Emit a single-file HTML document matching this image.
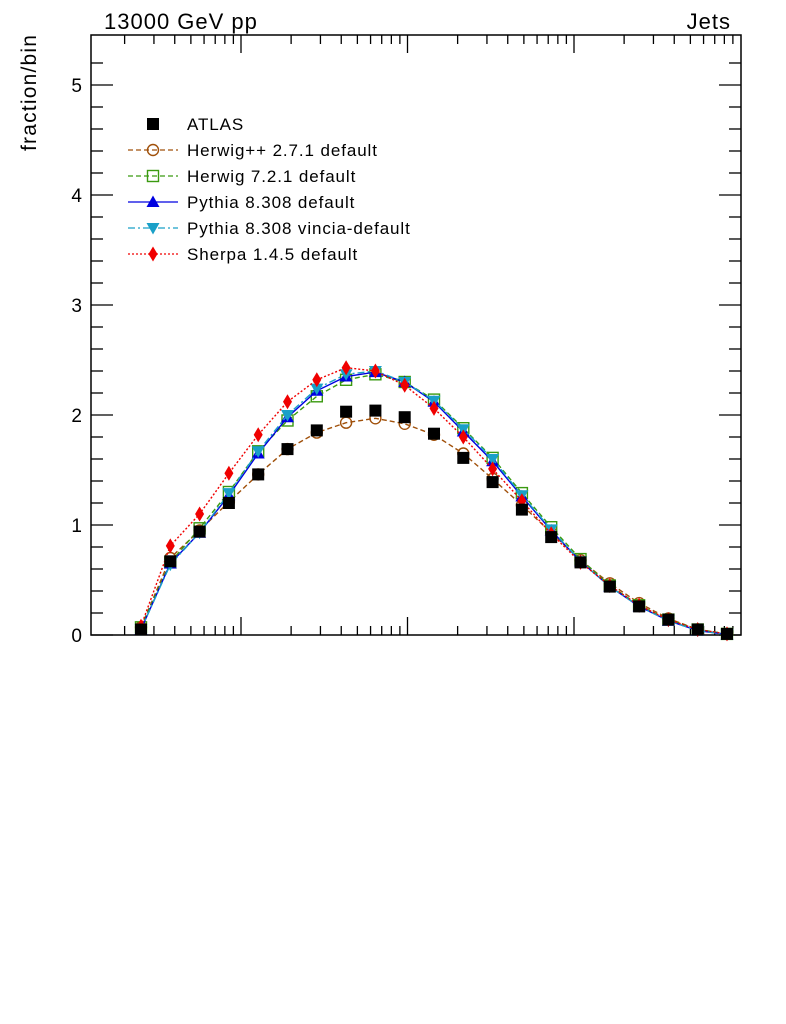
<!DOCTYPE html>
<html><head><meta charset="utf-8"><style>
html,body{margin:0;padding:0;background:#fff;width:786px;height:1024px;overflow:hidden}
svg{font-family:"Liberation Sans",Arial,sans-serif}
</style></head><body>
<svg id="chart" width="786" height="1024" xmlns="http://www.w3.org/2000/svg">
<text x="104" y="29" font-size="22" letter-spacing="1">13000 GeV pp</text>
<text x="731" y="29" font-size="22" letter-spacing="1" text-anchor="end">Jets</text>
<text transform="translate(36,151) rotate(-90)" font-size="21" letter-spacing="1.2">fraction/bin</text>
<rect x="91" y="35" width="650" height="600" fill="none" stroke="#000" stroke-width="1.5"/>
<g id="axes"></g>
<g id="series"></g>
<g id="legend"></g>
</svg>
<script>
const yTicks=[0,1,2,3,4,5];
const names=["ATLAS","Herwig++ 2.7.1 default","Herwig 7.2.1 default","Pythia 8.308 default","Pythia 8.308 vincia-default","Sherpa 1.4.5 default"];
const atlas=[0.05,0.67,0.94,1.20,1.46,1.69,1.86,2.03,2.04,1.98,1.83,1.61,1.39,1.14,0.89,0.66,0.44,0.26,0.14,0.05,0.01];
const herwigpp=[0.07,0.70,0.95,1.21,1.46,1.69,1.84,1.93,1.97,1.92,1.82,1.65,1.42,1.18,0.93,0.68,0.47,0.29,0.15,0.05,0.01];
const herwig7=[0.07,0.66,0.97,1.30,1.67,1.95,2.17,2.32,2.37,2.30,2.14,1.88,1.61,1.29,0.98,0.69,0.45,0.27,0.14,0.05,0.01];
const pythia=[0.05,0.65,0.93,1.27,1.65,1.98,2.22,2.35,2.39,2.30,2.12,1.85,1.58,1.26,0.95,0.67,0.44,0.26,0.13,0.04,0.005];
const vincia=[0.05,0.64,0.93,1.29,1.67,2.00,2.24,2.37,2.40,2.30,2.13,1.87,1.60,1.27,0.96,0.67,0.44,0.26,0.13,0.04,0.005];
const sherpa=[0.08,0.81,1.10,1.47,1.82,2.12,2.32,2.43,2.40,2.27,2.06,1.80,1.51,1.22,0.92,0.66,0.45,0.27,0.14,0.05,0.01];
const NS="http://www.w3.org/2000/svg";
const X0=91,X1=741,Y0=635,Y1=35,YMAX=5.4545;
function sy(v){return Y0-(v/YMAX)*(Y0-Y1);}
function sx(i){return 141+i*29.3;}
function mk(tag,at,parent){const e=document.createElementNS(NS,tag);for(const k in at)e.setAttribute(k,at[k]);parent.appendChild(e);return e;}
const axes=document.getElementById('axes');
for(let v=0;v<=5.4;v+=0.2){const val=Math.round(v*10)/10;const maj=Math.abs(val-Math.round(val))<1e-6;const L=maj?22:12;const y=sy(val);
 const t=mk('line',{x1:X0,x2:X0+L,y1:y,y2:y,stroke:'#000','stroke-width':1.3},axes);
 
 
 const t2=mk('line',{x1:X1,x2:X1-L,y1:y,y2:y,stroke:'#000','stroke-width':1.3},axes);
 
 }
yTicks.forEach(v=>{const t=mk('text',{x:82,y:sy(v)+7,'font-size':19,'text-anchor':'end'},axes);t.textContent=v;
 
 });
const dec=166.5,base=241;
for(let d=-1;d<=3;d++){for(let k=1;k<=9;k++){const x=base+dec*(d+Math.log10(k));if(x<=X0+1||x>=X1-1)continue;const L=k==1?18:9;
 const a=mk('line',{x1:x,x2:x,y1:Y0,y2:Y0-L,stroke:'#000','stroke-width':1.3},axes);
 
 
 const b=mk('line',{x1:x,x2:x,y1:Y1,y2:Y1+L,stroke:'#000','stroke-width':1.3},axes);
 
 }}
const ser=document.getElementById('series');
function marker(type,x,y,col,parent){let e;
 if(type=='sq')e=mk('rect',{x:x-6,y:y-6,width:12,height:12,fill:col},parent);
 else if(type=='osq')e=mk('rect',{x:x-5.5,y:y-5.5,width:11,height:11,fill:'none',stroke:col,'stroke-width':1.4},parent);
 else if(type=='oc')e=mk('circle',{cx:x,cy:y,r:5.5,fill:'none',stroke:col,'stroke-width':1.4},parent);
 else if(type=='tu')e=mk('polygon',{points:`${x},${y-6.5} ${x-6.5},${y+5} ${x+6.5},${y+5}`,fill:col},parent);
 else if(type=='td')e=mk('polygon',{points:`${x},${y+6.5} ${x-6.5},${y-5} ${x+6.5},${y-5}`,fill:col},parent);
 else e=mk('polygon',{points:`${x},${y-7.5} ${x-4.5},${y} ${x},${y+7.5} ${x+4.5},${y}`,fill:col},parent);
 return e;}
const defs=[
 {d:herwigpp,c:'#a0500a',dash:'5,3',m:'oc',n:'herwigpp'},
 {d:herwig7,c:'#3a9a10',dash:'5,3',m:'osq',n:'herwig7'},
 {d:pythia,c:'#0000e0',dash:'',m:'tu',n:'pythia'},
 {d:vincia,c:'#1aa0c8',dash:'7,3,2,3',m:'td',n:'vincia'},
 {d:sherpa,c:'#f00000',dash:'2,2',m:'di',n:'sherpa'}];
defs.forEach(s=>{const pts=s.d.map((v,i)=>sx(i)+','+sy(v)).join(' ');
 const pl=mk('polyline',{points:pts,fill:'none',stroke:s.c,'stroke-width':1.4,'stroke-dasharray':s.dash},ser);
 
 
 s.d.forEach((v,i)=>{const m=marker(s.m,sx(i),sy(v),s.c,ser);
  
  });});
atlas.forEach((v,i)=>{const m=marker('sq',sx(i),sy(v),'#000',ser);
 
 });
const lg=document.getElementById('legend');
const lsty=[{c:'#000',m:'sq',dash:null}].concat(defs);
names.forEach((nm,j)=>{const y=124+j*26;const s=lsty[j];
 const g=mk('g',{},lg);
 
 
 if(s.dash!==null)mk('line',{x1:128,x2:178,y1:y,y2:y,stroke:s.c,'stroke-width':1.3,'stroke-dasharray':s.dash},g);
 marker(s.m,153,y,s.c,g);
 const t=mk('text',{x:187,y:y+6,'font-size':17,'letter-spacing':0.9},g);t.textContent=nm;});
</script>
</body></html>
